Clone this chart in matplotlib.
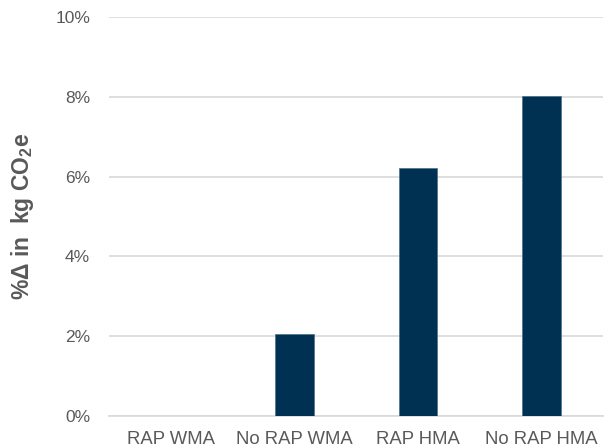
import matplotlib.pyplot as plt
from matplotlib.ticker import PercentFormatter

# Change in embodied carbon for each mix type
categories = ["RAP WMA", "No RAP WMA", "RAP HMA", "No RAP HMA"]
pct_change = [0.0, 2.04, 6.22, 8.03]
y_ticks = [0, 2, 4, 6, 8, 10]

plt.rcParams["font.family"] = ["Liberation Sans", "DejaVu Sans"]
plt.rcParams["mathtext.fontset"] = "custom"
plt.rcParams["mathtext.rm"] = "Liberation Sans:bold"
plt.rcParams["mathtext.bf"] = "Liberation Sans:bold"
plt.rcParams["mathtext.default"] = "bf"

fig = plt.figure(figsize=(6.1, 4.48), dpi=100)
ax = fig.add_axes([0.1795, 0.0725, 0.8095, 0.889])

ax.bar(categories, pct_change, width=0.313, color="#003152",
       edgecolor="#4a6f8c", linewidth=0.5, zorder=3)

ax.set_ylim(0, 10)
ax.set_xlim(-0.5, 3.5)
ax.set_yticks(y_ticks)
ax.yaxis.set_major_formatter(PercentFormatter(decimals=0))
ax.grid(axis="y", color="#d9d9d9", linewidth=1.2, zorder=0)

for side in ["top", "right", "left"]:
    ax.spines[side].set_visible(False)
ax.spines["bottom"].set_color("#d9d9d9")
ax.spines["bottom"].set_linewidth(1.2)

ax.tick_params(axis="both", length=0, colors="#595959")
ax.tick_params(axis="y", pad=14, labelsize=12.5)
ax.tick_params(axis="x", pad=11, labelsize=13.3)

ax.set_ylabel("%Δ in  kg CO$_{2}$e", fontsize=16.5,
              fontweight="bold", color="#595959", labelpad=14)

fig.savefig("out.png", dpi=100)
